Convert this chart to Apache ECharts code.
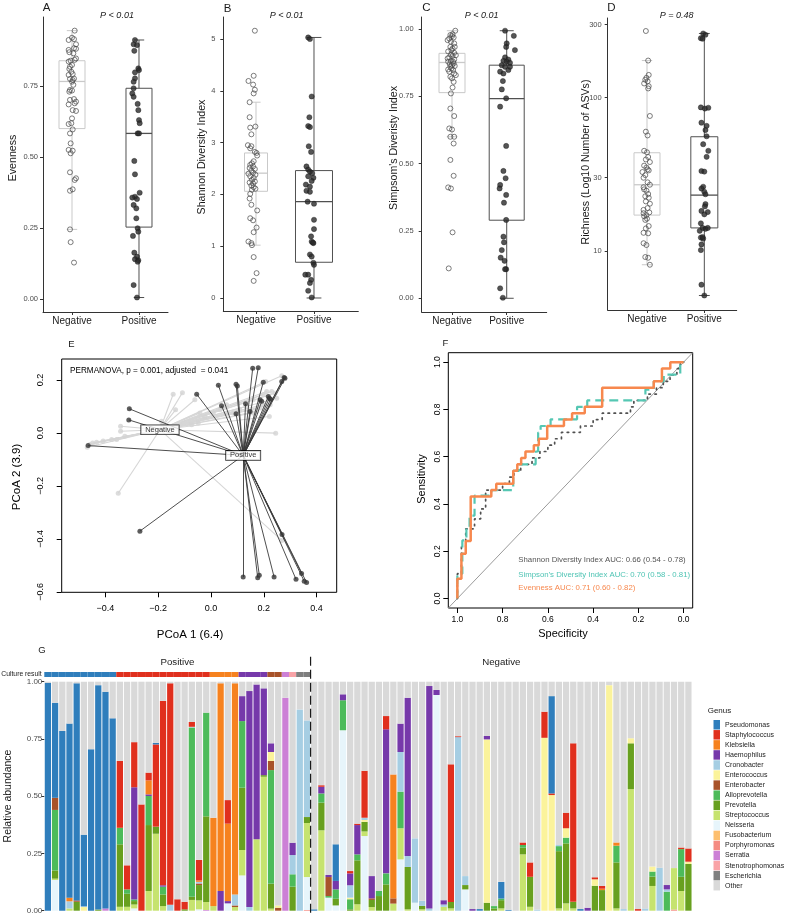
<!DOCTYPE html>
<html>
<head>
<meta charset="utf-8">
<script src="https://cdn.jsdelivr.net/npm/echarts@6.0.0/dist/echarts.min.js"></script>
<style>
html,body{margin:0;padding:0;background:#ffffff;}
#chart{width:787px;height:918px;}
</style>
</head>
<body>
<div id="chart"></div>
<script>
// ===================== DATA =====================
const groupNames = ['Negative', 'Positive'];

// Panel A – Evenness : [jitter offset, value]
const evennessNeg = [[0.04,0.945],[0.00,0.92],[-0.05,0.912],[0.03,0.915],[0.06,0.897],[-0.05,0.877],[0.03,0.883],[0.06,0.881],[-0.04,0.869],[0.02,0.865],[0.06,0.847],[-0.05,0.836],[-0.02,0.839],[0.04,0.842],[0.00,0.824],[-0.03,0.818],[-0.04,0.81],[-0.01,0.8],[0.01,0.792],[-0.05,0.789],[-0.03,0.775],[0.01,0.771],[0.03,0.776],[0.00,0.765],[0.02,0.754],[-0.03,0.736],[-0.04,0.73],[0.00,0.734],[-0.03,0.701],[0.03,0.704],[0.06,0.695],[0.04,0.689],[-0.05,0.685],[0.01,0.665],[0.06,0.662],[0.00,0.636],[-0.05,0.616],[-0.01,0.619],[0.01,0.597],[-0.03,0.583],[-0.02,0.548],[-0.05,0.525],[0.01,0.522],[-0.02,0.513],[-0.03,0.446],[0.06,0.425],[0.04,0.419],[0.01,0.386],[-0.03,0.381],[-0.03,0.245],[-0.02,0.2],[0.03,0.128]];
const evennessPos = [[-0.06,0.912],[-0.08,0.897],[-0.03,0.894],[-0.07,0.874],[-0.01,0.812],[0.0,0.806],[-0.06,0.798],[-0.06,0.777],[-0.08,0.765],[-0.08,0.742],[-0.1,0.724],[-0.08,0.712],[-0.02,0.687],[-0.01,0.665],[0.0,0.63],[0.01,0.619],[-0.02,0.583],[0.0,0.583],[-0.07,0.486],[-0.06,0.439],[0.01,0.374],[-0.06,0.36],[-0.1,0.357],[-0.03,0.352],[-0.08,0.331],[-0.04,0.319],[-0.04,0.284],[-0.02,0.249],[-0.01,0.237],[-0.09,0.222],[-0.07,0.163],[-0.03,0.149],[-0.06,0.14],[-0.01,0.136],[-0.02,0.131],[-0.08,0.049],[-0.03,0.005]];
const evennessBox = [[0.245,0.600,0.766,0.839,0.945],[0.005,0.253,0.583,0.742,0.912]];

// Panel B – Shannon
const shannonNeg = [[-0.02,5.16],[-0.04,4.29],[-0.13,4.19],[-0.05,4.12],[-0.02,4.02],[-0.04,3.95],[-0.11,3.78],[-0.11,3.49],[-0.01,3.31],[-0.1,3.29],[-0.08,3.16],[-0.14,2.95],[-0.08,2.93],[-0.1,2.89],[-0.02,2.82],[0.01,2.8],[0.02,2.75],[-0.04,2.64],[-0.07,2.6],[-0.1,2.57],[-0.05,2.54],[-0.11,2.51],[-0.02,2.49],[-0.08,2.46],[-0.05,2.42],[-0.13,2.4],[-0.01,2.38],[-0.1,2.35],[-0.04,2.32],[-0.07,2.28],[-0.02,2.25],[-0.11,2.23],[-0.05,2.21],[-0.08,2.17],[-0.04,2.14],[-0.01,2.11],[-0.07,2.09],[-0.1,2.01],[-0.11,1.92],[-0.08,1.8],[0.02,1.69],[-0.1,1.54],[-0.05,1.5],[0.01,1.36],[-0.04,1.27],[-0.13,1.09],[-0.08,1.06],[-0.07,1.02],[-0.04,0.79],[0.01,0.48],[-0.04,0.33]];
const shannonPos = [[-0.1,5.03],[-0.07,5.0],[-0.04,3.89],[-0.08,3.49],[-0.1,3.32],[-0.07,3.3],[-0.09,2.93],[-0.05,2.82],[-0.13,2.54],[-0.1,2.48],[-0.07,2.44],[-0.03,2.41],[-0.1,2.35],[-0.01,2.32],[-0.04,2.26],[-0.14,2.19],[-0.07,2.15],[-0.13,2.07],[-0.07,2.05],[-0.11,1.86],[0.0,1.82],[0.0,1.51],[0.0,1.33],[-0.05,1.19],[-0.04,1.09],[-0.01,1.06],[-0.02,1.07],[-0.07,0.84],[-0.04,0.8],[-0.01,0.68],[0.0,0.64],[-0.15,0.45],[-0.1,0.45],[-0.05,0.35],[-0.07,0.29],[-0.1,0.14],[-0.04,0.01]];
const shannonBox = [[1.02,2.06,2.41,2.80,3.78],[0.0,0.69,1.86,2.46,5.03]];

// Panel C – Simpson
const simpsonNeg = [[0.06,0.994],[0.01,0.981],[-0.03,0.978],[0.0,0.974],[0.03,0.969],[-0.05,0.965],[-0.02,0.953],[0.04,0.947],[-0.03,0.934],[0.01,0.928],[-0.07,0.917],[0.04,0.912],[-0.02,0.906],[0.01,0.9],[-0.05,0.895],[0.04,0.887],[-0.02,0.882],[-0.07,0.879],[0.03,0.873],[0.0,0.866],[-0.03,0.86],[-0.05,0.842],[0.04,0.835],[-0.03,0.823],[0.01,0.783],[-0.02,0.761],[-0.03,0.705],[0.04,0.677],[-0.05,0.631],[0.0,0.627],[-0.03,0.6],[0.04,0.6],[0.03,0.575],[-0.03,0.514],[0.03,0.455],[-0.07,0.412],[-0.02,0.408],[0.01,0.245],[-0.06,0.111],[-0.08,0.959],[0.05,0.934],[-0.01,0.922],[0.07,0.903],[-0.08,0.891],[0.02,0.879],[-0.04,0.87],[0.05,0.863],[-0.01,0.854],[0.02,0.848],[-0.07,0.85],[0.07,0.829],[0.0,0.817],[0.03,0.804]];
const simpsonPos = [[-0.03,0.994],[0.13,0.975],[0.0,0.947],[-0.01,0.934],[0.15,0.922],[-0.03,0.895],[0.03,0.887],[-0.06,0.882],[0.0,0.879],[0.06,0.875],[-0.09,0.866],[-0.03,0.86],[0.03,0.848],[-0.12,0.842],[-0.06,0.835],[-0.07,0.807],[-0.09,0.776],[-0.01,0.743],[-0.12,0.712],[-0.01,0.566],[-0.06,0.473],[-0.02,0.446],[-0.12,0.421],[-0.13,0.408],[-0.01,0.384],[-0.05,0.355],[-0.01,0.291],[-0.06,0.229],[-0.05,0.208],[-0.09,0.179],[-0.11,0.151],[-0.04,0.139],[-0.01,0.108],[-0.03,0.108],[-0.12,0.037],[-0.07,0.002],[0.06,0.86]];
const simpsonBox = [[0.600,0.764,0.876,0.910,0.994],[0.0,0.290,0.742,0.866,0.994]];

// Panel D – Richness (number of ASVs, log scale)
const richnessNeg = [[-0.02,273],[0.02,175],[0.03,141],[-0.01,135],[-0.03,131],[0.01,128],[-0.05,124],[0.03,119],[0.02,115],[0.05,76],[-0.02,60],[0.01,56.7],[-0.05,45],[0.0,44],[0.02,41],[-0.02,39.5],[-0.05,36],[-0.01,35],[0.03,33.5],[-0.08,32.7],[-0.03,31.2],[0.05,27],[-0.05,25.2],[-0.01,24.7],[-0.03,22.7],[0.03,22.2],[0.05,20.3],[-0.06,17.6],[-0.01,17.1],[-0.05,16.8],[-0.03,15.9],[-0.02,14],[-0.06,13.1],[0.02,13],[-0.06,11.2],[-0.01,10.9],[-0.03,9.1],[0.02,9.0],[0.05,8.1],[0.01,28],[-0.06,26],[0.02,23.5],[-0.02,21],[0.01,19],[-0.06,18.5],[0.04,17.8],[0.0,16.2],[0.03,14.5],[-0.06,30],[0.01,34],[0.05,38]];
const richnessPos = [[-0.02,263],[0.02,258],[-0.06,245],[-0.03,243],[-0.06,86.5],[0.01,85],[0.07,86],[-0.05,68.7],[0.04,65.5],[0.02,61.5],[0.04,56],[-0.02,49.7],[0.07,45],[0.04,41.1],[-0.05,33.2],[0.0,32.9],[-0.02,26.2],[-0.05,25.5],[0.0,24.3],[0.02,23.4],[0.02,20.2],[-0.05,18.2],[0.06,17.9],[0.0,17.3],[-0.06,15.1],[-0.03,14.1],[0.02,13.9],[0.06,14.1],[-0.06,12.2],[-0.02,12.0],[-0.05,11.0],[-0.06,10.1],[-0.05,6.0],[0.0,5.1],[0.01,19.5],[-0.08,13.5],[-0.03,12.3]];
const richnessBox = [[8.1,17.1,27,43.7,175],[5.1,14.1,23.1,55.6,263]];

const pValues = ['P < 0.01', 'P < 0.01', 'P < 0.01', 'P = 0.48'];
const yTitles = ['Evenness', 'Shannon Diversity Index', "Simpsom's Diveristy Index", 'Richness (Log10 Number of ASVs)'];

// Panel E – PCoA
const pcoaNegCentroid = [-0.193, 0.012];
const pcoaPosCentroid = [0.122, -0.085];
const pcoaNeg = [[-0.468,-0.054],[-0.458,-0.044],[-0.448,-0.038],[-0.433,-0.035],[-0.408,-0.031],[-0.376,-0.025],[-0.357,-0.025],[-0.326,-0.013],[-0.342,0.025],[-0.342,0.006],[-0.351,-0.228],[-0.187,0.044],[-0.134,0.087],[-0.143,0.146],[-0.108,0.152],[-0.061,0.125],[-0.042,0.075],[-0.048,0.037],[-0.073,0.031],[-0.023,0.06],[0.009,0.075],[0.034,0.087],[0.059,0.106],[0.085,0.075],[0.109,0.087],[0.134,0.1],[0.16,0.075],[0.173,0.081],[0.186,0.094],[0.198,0.106],[0.221,0.062],[0.224,0.106],[0.16,0.125],[0.198,0.144],[0.207,0.194],[0.211,0.156],[0.23,0.156],[0.242,0.15],[0.249,0.131],[0.268,0.216],[0.245,-0.001],[0.268,-0.406]];
const pcoaPos = [[-0.465,-0.048],[-0.309,0.091],[-0.311,0.049],[-0.269,-0.371],[-0.054,0.146],[0.028,0.18],[0.04,0.102],[0.095,0.184],[0.1,0.177],[0.095,0.072],[0.131,0.11],[0.158,0.244],[0.179,0.246],[0.198,0.191],[0.186,0.125],[0.192,0.119],[0.217,0.137],[0.221,0.131],[0.226,0.127],[0.268,0.194],[0.277,0.209],[0.28,0.206],[0.148,0.081],[0.122,-0.544],[0.177,-0.547],[0.183,-0.538],[0.239,-0.544],[0.322,-0.553],[0.343,-0.531],[0.353,-0.56],[0.362,-0.565],[0.269,-0.384]];
const permanovaText = 'PERMANOVA, p = 0.001, adjusted  = 0.041';

// Panel F – ROC curves : [specificity, sensitivity]
const rocShannon = [[1,0],[1,0.105],[0.982,0.105],[0.982,0.218],[0.963,0.218],[0.963,0.295],[0.924,0.295],[0.924,0.337],[0.897,0.337],[0.897,0.379],[0.875,0.379],[0.875,0.459],[0.80,0.459],[0.80,0.486],[0.77,0.486],[0.77,0.514],[0.75,0.514],[0.75,0.541],[0.72,0.541],[0.72,0.568],[0.67,0.568],[0.67,0.595],[0.635,0.595],[0.635,0.622],[0.6,0.622],[0.6,0.649],[0.57,0.649],[0.57,0.676],[0.54,0.676],[0.54,0.703],[0.456,0.703],[0.456,0.730],[0.40,0.730],[0.40,0.757],[0.36,0.757],[0.36,0.784],[0.235,0.784],[0.235,0.811],[0.22,0.811],[0.22,0.838],[0.16,0.838],[0.16,0.865],[0.12,0.865],[0.12,0.892],[0.09,0.892],[0.09,0.919],[0.06,0.919],[0.06,0.946],[0.03,0.946],[0.03,0.973],[0.015,0.973],[0.015,1],[0,1]];
const rocSimpson = [[1,0],[1,0.105],[0.978,0.105],[0.978,0.246],[0.96,0.246],[0.96,0.298],[0.946,0.298],[0.946,0.351],[0.924,0.351],[0.924,0.435],[0.85,0.435],[0.85,0.459],[0.753,0.459],[0.753,0.540],[0.728,0.540],[0.728,0.568],[0.654,0.568],[0.654,0.622],[0.643,0.622],[0.643,0.702],[0.632,0.702],[0.632,0.730],[0.588,0.730],[0.588,0.758],[0.471,0.758],[0.471,0.811],[0.426,0.811],[0.426,0.838],[0.169,0.838],[0.169,0.884],[0.132,0.884],[0.132,0.919],[0.088,0.919],[0.088,0.947],[0.015,0.947],[0.015,1],[0,1]];
const rocEvenness = [[1,0],[1,0.084],[0.982,0.084],[0.982,0.189],[0.963,0.189],[0.963,0.243],[0.941,0.243],[0.941,0.432],[0.85,0.432],[0.85,0.459],[0.828,0.459],[0.828,0.486],[0.753,0.486],[0.753,0.541],[0.735,0.541],[0.735,0.568],[0.718,0.568],[0.718,0.595],[0.699,0.595],[0.699,0.622],[0.662,0.622],[0.662,0.649],[0.64,0.649],[0.64,0.676],[0.603,0.676],[0.603,0.730],[0.529,0.730],[0.529,0.757],[0.493,0.757],[0.493,0.784],[0.437,0.784],[0.437,0.811],[0.36,0.811],[0.36,0.892],[0.132,0.892],[0.132,0.919],[0.096,0.919],[0.096,0.973],[0.059,0.973],[0.059,1],[0,1]];
const rocChance = [[1.04,-0.04],[-0.04,1.04]];
const aucLabels = ['Shannon Diversity Index AUC: 0.66 (0.54 - 0.78)', "Simpson's Diversity Index AUC: 0.70 (0.58 - 0.81)", 'Evenness AUC: 0.71 (0.60 - 0.82)'];

// Panel G – relative abundance per sample (bar number 1..90 : abundance)
const genusOrder = ['Pseudomonas','Staphylococcus','Klebsiella','Haemophilus','Cronobacter','Enterococcus','Enterobacter','Alloprevotella','Prevotella','Streptococcus','Neisseria','Fusobacterium','Porphyromonas','Serratia','Stenotrophomonas','Escherichia'];
const Pseudomonas = [[1,0.995],[2,0.415],[3,0.785],[4,0.76],[5,0.948],[6,0.313],[7,0.705],[8,0.98],[9,0.946],[10,0.84],[16,0.007],[38,0.006],[41,0.16],[61,0.007],[64,0.073],[65,0.004],[71,0.425],[75,0.007]];
const Staphylococcus = [[11,0.292],[12,0.105],[13,0.197],[14,0.464],[15,0.034],[16,0.359],[17,0.805],[18,0.967],[19,0.05],[20,0.033],[21,0.021],[22,0.09],[26,0.103],[39,0.007],[43,0.01],[44,0.006],[45,0.205],[48,0.058],[57,0.601],[58,0.004],[67,0.011],[68,0.063],[70,0.114],[71,0.007],[73,0.068],[74,0.692],[77,0.009],[78,0.012],[83,0.007],[89,0.007],[90,0.058]];
const Klebsiella = [[4,0.016],[15,0.061],[22,0.006],[24,0.386],[25,0.907],[26,0.338],[27,0.922],[49,0.541],[78,0.006],[80,0.014]];
const Haemophilus = [[13,0.49],[15,0.007],[17,0.006],[25,0.086],[26,0.01],[28,0.109],[29,0.943],[30,0.676],[31,0.379],[32,0.038],[35,0.054],[39,0.029],[40,0.009],[41,0.037],[42,0.026],[43,0.052],[44,0.128],[46,0.097],[48,0.629],[50,0.124],[51,0.691],[54,0.971],[55,0.022],[56,0.019],[60,0.007],[62,0.015],[76,0.013],[87,0.019]];
const Cronobacter = [[4,0.031],[6,0.003],[18,0.026],[21,0.003],[22,0.007],[27,0.048],[29,0.016],[35,0.084],[36,0.879],[37,0.422],[43,0.054],[45,0.01],[50,0.173],[51,0.048],[52,0.281],[53,0.022],[54,0.01],[56,0.01],[58,0.758],[59,0.039],[69,0.005],[72,0.005],[81,0.007],[84,0.01],[86,0.188],[87,0.01]];
const Enterococcus = [[6,0.016],[32,0.039],[33,0.01],[43,0.007],[45,0.008],[62,0.713],[70,0.755],[71,0.505],[73,0.041],[77,0.028],[79,0.985],[82,0.022],[85,0.022],[90,0.01]];
const Enterobacter = [[2,0.053],[5,0.006],[22,0.007],[27,0.007],[32,0.04],[33,0.013],[40,0.083],[46,0.007],[49,0.023]];
const Alloprevotella = [[2,0.264],[11,0.072],[12,0.019],[13,0.007],[15,0.127],[17,0.034],[21,0.739],[23,0.453],[28,0.291],[32,0.496],[35,0.054],[39,0.04],[40,0.007],[41,0.041],[42,0.131],[43,0.044],[44,0.026],[47,0.022],[48,0.048],[50,0.16],[63,0.01],[64,0.007],[67,0.012],[72,0.022],[73,0.025],[80,0.073],[85,0.022],[87,0.083],[89,0.121]];
const Prevotella = [[2,0.036],[5,0.039],[8,0.005],[11,0.273],[12,0.057],[13,0.015],[15,0.288],[16,0.031],[17,0.051],[20,0.006],[21,0.014],[22,0.067],[23,0.374],[28,0.272],[31,0.007],[32,0.109],[35,0.105],[37,0.026],[39,0.121],[41,0.029],[43,0.006],[44,0.192],[45,0.042],[46,0.031],[47,0.064],[48,0.115],[51,0.185],[53,0.015],[57,0.028],[59,0.019],[62,0.035],[63,0.01],[64,0.036],[67,0.029],[68,0.131],[72,0.25],[73,0.262],[74,0.029],[77,0.109],[78,0.09],[80,0.201],[82,0.2],[85,0.041],[89,0.062],[90,0.204]];
const Streptococcus = [[2,0.006],[4,0.01],[11,0.017],[12,0.017],[13,0.017],[15,0.086],[16,0.336],[17,0.02],[21,0.047],[22,0.039],[23,0.035],[24,0.02],[27,0.016],[28,0.111],[30,0.312],[31,0.585],[32,0.009],[37,0.236],[39,0.351],[44,0.028],[45,0.02],[46,0.016],[49,0.031],[50,0.136],[51,0.006],[53,0.006],[56,0.017],[57,0.01],[64,0.01],[67,0.246],[68,0.017],[72,0.01],[73,0.032],[74,0.01],[80,0.01],[82,0.531],[85,0.108],[88,0.181],[89,0.086]];
const Neisseria = [[2,0.134],[13,0.01],[22,0.006],[26,0.032],[28,0.154],[37,0.144],[40,0.057],[41,0.023],[42,0.788],[45,0.326],[50,0.224],[52,0.035],[55,0.942],[59,0.093]];
const Fusobacterium = [];
const Porphyromonas = [[37,0.003],[88,0.005]];
const Serratia = [[9,0.01],[23,0.003],[34,0.93]];
const Stenotrophomonas = [];
const Escherichia = [];
const abundanceByGenus = {Pseudomonas,Staphylococcus,Klebsiella,Haemophilus,Cronobacter,Enterococcus,Enterobacter,Alloprevotella,Prevotella,Streptococcus,Neisseria,Fusobacterium,Porphyromonas,Serratia,Stenotrophomonas,Escherichia};
const sampleCount = 90;
const cultureResult = [['Pseudomonas',10],['Staphylococcus',13],['Klebsiella',4],['Haemophilus',4],['Enterobacter',2],['Serratia',1],['Stenotrophomonas',1],['Escherichia',2]];

// ===================== STYLE =====================
const FONT = '"Liberation Sans", Arial, Helvetica, sans-serif';
const genusColors = {
  Pseudomonas:'#2f7ebc', Staphylococcus:'#e0301e', Klebsiella:'#f6821f', Haemophilus:'#7639aa',
  Cronobacter:'#a6cee3', Enterococcus:'#fbf39b', Enterobacter:'#a8532a', Alloprevotella:'#4dbb5a',
  Prevotella:'#68a01f', Streptococcus:'#c6e36f', Neisseria:'#e7f5fb', Fusobacterium:'#fdbf6f',
  Porphyromonas:'#f58b82', Serratia:'#cc80d6', Stenotrophomonas:'#f9a3a7', Escherichia:'#7f7f7f', Other:'#d9d9d9'
};
const boxPanels = [
  {grid:{left:43,top:17,width:125,height:295}, xmin:0.567, xmax:2.433, ymin:-0.046, ymax:0.993, yticks:[0,0.25,0.5,0.75], fmt:v=>v.toFixed(2), type:'value', lm:5, widths:[26,26], neg:evennessNeg, pos:evennessPos, box:evennessBox},
  {grid:{left:223.3,top:17,width:135,height:294}, xmin:0.436, xmax:2.764, ymin:-0.251, ymax:5.425, yticks:[0,1,2,3,4,5], fmt:v=>String(Math.round(v)), type:'value', lm:8, widths:[23,37], neg:shannonNeg, pos:shannonPos, box:shannonBox},
  {grid:{left:421.7,top:17,width:125,height:295}, xmin:0.446, xmax:2.731, ymin:-0.051, ymax:1.045, yticks:[0,0.25,0.5,0.75,1], fmt:v=>v.toFixed(2), type:'value', lm:8, widths:[26,35], neg:simpsonNeg, pos:simpsonPos, box:simpsonBox},
  {grid:{left:607.7,top:18,width:129,height:292}, xmin:0.314, xmax:2.565, ymin:4.1, ymax:332, yticks:[10,30,100,300], fmt:v=>String(Math.round(v)), type:'log', lm:6, widths:[26,27], neg:richnessNeg, pos:richnessPos, box:richnessBox}
];
const boxColors = ['#c9c9c9', '#505050'];

// ===================== BUILD =====================
const grids = [], xAxes = [], yAxes = [], series = [], graphics = [];
function txt(text, x, y, o) {
  o = o || {};
  return {type:'text', x:x, y:y, rotation:o.rot||0, silent:true, z:100,
    style:{text:text, fontSize:o.fs||10, fontFamily:FONT, fill:o.color||'#1a1a1a', align:o.align||'center', verticalAlign:o.va||'middle', fontStyle:o.italic?'italic':'normal'}};
}
function boxRenderer(widths) {
  return function(params, api) {
    const i = params.dataIndex;
    const x = api.value(0);
    const p = [1,2,3,4,5].map(k => api.coord([x, api.value(k)]));
    const cx = p[0][0], w = widths[i], hw = w/2, cw = w*0.2;
    const col = boxColors[i];
    const st = {stroke:col, lineWidth:1, fill:null};
    return {type:'group', children:[
      {type:'line', shape:{x1:cx,y1:p[0][1],x2:cx,y2:p[1][1]}, style:st},
      {type:'line', shape:{x1:cx,y1:p[3][1],x2:cx,y2:p[4][1]}, style:st},
      {type:'line', shape:{x1:cx-cw,y1:p[0][1],x2:cx+cw,y2:p[0][1]}, style:st},
      {type:'line', shape:{x1:cx-cw,y1:p[4][1],x2:cx+cw,y2:p[4][1]}, style:st},
      {type:'rect', shape:{x:cx-hw,y:p[3][1],width:w,height:p[1][1]-p[3][1]}, style:{stroke:col, lineWidth:1, fill:'none'}},
      {type:'line', shape:{x1:cx-hw,y1:p[2][1],x2:cx+hw,y2:p[2][1]}, style:{stroke:col, lineWidth:1.3}}
    ]};
  };
}

boxPanels.forEach((bp, gi) => {
  grids.push(Object.assign({containLabel:false, outerBoundsMode:'none'}, bp.grid));
  xAxes.push({gridIndex:gi, type:'value', min:bp.xmin, max:bp.xmax,
    axisLine:{show:true, onZero:false, lineStyle:{color:'#333', width:1}},
    axisTick:{show:true, customValues:[1,2], length:3, lineStyle:{color:'#333'}},
    axisLabel:{customValues:[1,2], formatter:v => groupNames[Math.round(v)-1], fontSize:10, color:'#1a1a1a', fontFamily:FONT, margin:4},
    splitLine:{show:false}});
  yAxes.push({gridIndex:gi, type:bp.type, min:bp.ymin, max:bp.ymax, logBase:10,
    axisLine:{show:true, onZero:false, lineStyle:{color:'#333', width:1}},
    axisTick:{show:true, customValues:bp.yticks, length:3, lineStyle:{color:'#333'}},
    axisLabel:{customValues:bp.yticks, formatter:bp.fmt, fontSize:7.5, color:'#4d4d4d', fontFamily:FONT, margin:bp.lm},
    splitLine:{show:false}, minorTick:{show:false}});
  series.push({type:'custom', xAxisIndex:gi, yAxisIndex:gi, z:2, silent:true,
    renderItem:boxRenderer(bp.widths),
    data:bp.box.map((b, k) => [k+1].concat(b))});
  series.push({type:'scatter', xAxisIndex:gi, yAxisIndex:gi, z:3, silent:true, symbolSize:5,
    itemStyle:{color:'rgba(255,255,255,0)', borderColor:'#4a4a4a', borderWidth:0.9},
    data:bp.neg.map(d => [1+d[0], d[1]])});
  series.push({type:'scatter', xAxisIndex:gi, yAxisIndex:gi, z:3, silent:true, symbolSize:5.2,
    itemStyle:{color:'#2a2a2a', borderColor:'#1a1a1a', borderWidth:0.5},
    data:bp.pos.map(d => [2+d[0], d[1]])});
});

// Panel text A-D
const letterPos = [[46.5,7.5],[227.5,8.5],[426.5,7.5],[611.5,7.5]];
const pPos = [[117,15],[286.7,15.5],[481.7,15],[676.7,15]];
const yTitlePos = [[13.3,158],[201.7,157],[394.5,148],[586.5,162]];
['A','B','C','D'].forEach((L, i) => {
  graphics.push(txt(L, letterPos[i][0], letterPos[i][1], {fs:11.5}));
  graphics.push(txt(pValues[i], pPos[i][0], pPos[i][1], {fs:9, italic:true}));
  graphics.push(txt(yTitles[i], yTitlePos[i][0], yTitlePos[i][1], {fs:10.6, rot:Math.PI/2}));
});

// ---- Panel E ----
const gE = grids.length;
grids.push({left:61.7, top:359, width:275, height:233.3, show:true, borderColor:'#000', borderWidth:1, containLabel:false, outerBoundsMode:'none'});
const minusFmt = v => (v < -1e-9 ? '\u2212' : '') + Math.abs(v).toFixed(1);
xAxes.push({gridIndex:gE, type:'value', min:-0.565, max:0.476, axisLine:{show:false, onZero:false},
  axisTick:{show:true, customValues:[-0.4,-0.2,0,0.2,0.4], length:5, lineStyle:{color:'#000'}},
  axisLabel:{customValues:[-0.4,-0.2,0,0.2,0.4], formatter:minusFmt, fontSize:9, color:'#000', fontFamily:FONT, margin:12},
  splitLine:{show:false}});
yAxes.push({gridIndex:gE, type:'value', min:-0.602, max:0.279, axisLine:{show:false, onZero:false},
  axisTick:{show:true, customValues:[-0.6,-0.4,-0.2,0,0.2], length:5, lineStyle:{color:'#000'}},
  axisLabel:{customValues:[-0.6,-0.4,-0.2,0,0.2], formatter:minusFmt, rotate:90, fontSize:9, color:'#000', fontFamily:FONT, margin:17},
  splitLine:{show:false}});
series.push({type:'lines', coordinateSystem:'cartesian2d', xAxisIndex:gE, yAxisIndex:gE, silent:true, z:2,
  lineStyle:{color:'#d6d6d6', width:1.1, opacity:1, curveness:0},
  data:pcoaNeg.map(p => ({coords:[pcoaNegCentroid, p]}))});
series.push({type:'scatter', xAxisIndex:gE, yAxisIndex:gE, silent:true, z:3, symbolSize:5,
  itemStyle:{color:'#d3d3d3'}, data:pcoaNeg});
series.push({type:'lines', coordinateSystem:'cartesian2d', xAxisIndex:gE, yAxisIndex:gE, silent:true, z:4,
  lineStyle:{color:'#3a3a3a', width:0.9, opacity:1, curveness:0},
  data:pcoaPos.map(p => ({coords:[pcoaPosCentroid, p]}))});
series.push({type:'scatter', xAxisIndex:gE, yAxisIndex:gE, silent:true, z:5, symbolSize:5,
  itemStyle:{color:'#353535'}, data:pcoaPos});
series.push({type:'scatter', xAxisIndex:gE, yAxisIndex:gE, silent:true, z:6, symbolSize:0,
  label:{show:true, position:'inside', fontSize:7.5, fontFamily:FONT, color:'#000', backgroundColor:'#fff', borderColor:'#000', borderWidth:0.8, padding:[1,4,0,4], formatter:p => p.name},
  data:[{name:groupNames[0], value:pcoaNegCentroid},{name:groupNames[1], value:pcoaPosCentroid}]});
graphics.push(txt('E', 71.5, 344, {fs:9.5}));
graphics.push(txt(permanovaText, 70, 370.5, {fs:8.2, align:'left', color:'#000'}));
graphics.push(txt('PCoA 1 (6.4)', 190, 635, {fs:11.5, color:'#000'}));
graphics.push(txt('PCoA 2 (3.9)', 17, 477, {fs:11.5, color:'#000', rot:Math.PI/2}));

// ---- Panel F ----
const gF = grids.length;
grids.push({left:448.3, top:352.7, width:244.4, height:255.3, show:true, borderColor:'#000', borderWidth:1, containLabel:false, outerBoundsMode:'none'});
const rocTicks = [0,0.2,0.4,0.6,0.8,1];
xAxes.push({gridIndex:gF, type:'value', inverse:true, min:-0.04, max:1.04, axisLine:{show:false, onZero:false},
  axisTick:{show:true, customValues:rocTicks, length:5, lineStyle:{color:'#000'}},
  axisLabel:{customValues:rocTicks, formatter:v => v.toFixed(1), fontSize:8.5, color:'#000', fontFamily:FONT, margin:7},
  splitLine:{show:false}});
yAxes.push({gridIndex:gF, type:'value', min:-0.04, max:1.04, axisLine:{show:false, onZero:false},
  axisTick:{show:true, customValues:rocTicks, length:5, lineStyle:{color:'#000'}},
  axisLabel:{customValues:rocTicks, formatter:v => v.toFixed(1), rotate:90, fontSize:8.5, color:'#000', fontFamily:FONT, margin:6},
  splitLine:{show:false}});
series.push({type:'line', xAxisIndex:gF, yAxisIndex:gF, data:rocChance, showSymbol:false, silent:true, z:2,
  lineStyle:{color:'#9a9a9a', width:1}});
series.push({type:'line', xAxisIndex:gF, yAxisIndex:gF, data:rocShannon, showSymbol:false, silent:true, z:3,
  lineStyle:{color:'#505050', width:1.7, type:[1.5,4.5], cap:'round'}});
series.push({type:'line', xAxisIndex:gF, yAxisIndex:gF, data:rocSimpson, showSymbol:false, silent:true, z:4,
  lineStyle:{color:'#55c7b3', width:2.2, type:[9,5]}});
series.push({type:'line', xAxisIndex:gF, yAxisIndex:gF, data:rocEvenness, showSymbol:false, silent:true, z:5,
  lineStyle:{color:'#f7884e', width:2.5}});
graphics.push(txt('F', 445.5, 343, {fs:9.5}));
graphics.push(txt(aucLabels[0], 518.3, 560, {fs:7.8, align:'left', color:'#555'}));
graphics.push(txt(aucLabels[1], 518.3, 574.5, {fs:7.8, align:'left', color:'#4fc4b4'}));
graphics.push(txt(aucLabels[2], 518.3, 588, {fs:7.8, align:'left', color:'#f7884e'}));
graphics.push(txt('Sensitivity', 421.7, 479, {fs:11, color:'#000', rot:Math.PI/2}));
graphics.push(txt('Specificity', 563, 634, {fs:11, color:'#000'}));

// ---- Panel G ----
const sampleIds = Array.from({length:sampleCount}, (_, i) => 'S' + (i+1));
const dense = {};
genusOrder.forEach(g => {
  const arr = new Array(sampleCount).fill(0);
  abundanceByGenus[g].forEach(([idx, v]) => { arr[idx-1] = v; });
  dense[g] = arr;
});
const otherAbund = sampleIds.map((_, i) => {
  let s = 0; genusOrder.forEach(g => { s += dense[g][i]; });
  return Math.max(0, +(1 - s).toFixed(4));
});
const gG = grids.length;
grids.push({left:44.3, top:681.7, width:647.7, height:229, containLabel:false, outerBoundsMode:'none'});
xAxes.push({gridIndex:gG, type:'category', data:sampleIds, show:false});
yAxes.push({gridIndex:gG, type:'value', min:0, max:1, interval:0.25, axisLine:{show:false},
  axisTick:{show:true, length:3, lineStyle:{color:'#333'}},
  axisLabel:{formatter:v => v.toFixed(2), fontSize:8, color:'#4d4d4d', fontFamily:FONT, margin:2},
  splitLine:{show:false}});
const stackOrder = genusOrder.slice().reverse();
stackOrder.forEach(g => {
  series.push({name:g, type:'bar', stack:'abund', xAxisIndex:gG, yAxisIndex:gG, data:dense[g], barCategoryGap:'13%',
    itemStyle:{color:genusColors[g]}, silent:true, z:2});
});
series.push({name:'Other', type:'bar', stack:'abund', xAxisIndex:gG, yAxisIndex:gG, data:otherAbund, barCategoryGap:'13%',
  itemStyle:{color:genusColors.Other}, silent:true, z:2});
// separator + group headers
const nPos = cultureResult.reduce((s, c) => s + c[1], 0);
series.push({type:'custom', xAxisIndex:gG, yAxisIndex:gG, silent:true, z:10, clip:false, data:[[0,0]],
  renderItem:(params, api) => {
    const a = api.coord([nPos-1, 1]), b = api.coord([nPos, 0]);
    const x = (a[0] + b[0]) / 2;
    const p0 = api.coord([0, 1]), pN = api.coord([sampleCount-1, 1]);
    const hs = {fontSize:9.7, fontFamily:FONT, fill:'#1a1a1a', align:'center', verticalAlign:'middle'};
    return {type:'group', children:[
      {type:'line', shape:{x1:x, y1:a[1]-25, x2:x, y2:b[1]+4}, style:{stroke:'#1a1a1a', lineWidth:1.2, lineDash:[9,4]}},
      {type:'text', x:(p0[0]+a[0])/2, y:a[1]-19.7, style:Object.assign({text:groupNames[1]}, hs)},
      {type:'text', x:(b[0]+pN[0])/2, y:a[1]-19.7, style:Object.assign({text:groupNames[0]}, hs)}
    ]};
  }});
// culture result strip
const cultureArr = [];
cultureResult.forEach(([g, n]) => { for (let k = 0; k < n; k++) cultureArr.push(g); });
const gC = grids.length;
grids.push({left:44.3, top:672, width:647.7, height:5, containLabel:false, outerBoundsMode:'none'});
xAxes.push({gridIndex:gC, type:'category', data:sampleIds, show:false});
yAxes.push({gridIndex:gC, type:'value', min:0, max:1, show:false});
series.push({type:'bar', xAxisIndex:gC, yAxisIndex:gC, barCategoryGap:'0%', silent:true,
  data:sampleIds.map((_, i) => i < cultureArr.length ? {value:1, itemStyle:{color:genusColors[cultureArr[i]]}} : '-')});

graphics.push(txt('G', 42, 650, {fs:9.5}));
graphics.push(txt('Culture result', 41.7, 674.5, {fs:6.8, align:'right'}));
graphics.push(txt('Relative abundance', 8, 796, {fs:10.5, rot:Math.PI/2}));
graphics.push(txt('Genus', 707.7, 711, {fs:8, align:'left'}));

const option = {
  animation:false,
  backgroundColor:'#ffffff',
  textStyle:{fontFamily:FONT},
  grid:grids, xAxis:xAxes, yAxis:yAxes, series:series,
  legend:{data:genusOrder.concat(['Other']), orient:'vertical', left:713.5, top:720, itemWidth:6.5, itemHeight:9.5, itemGap:0.56,
    icon:'rect', selectedMode:false, textStyle:{fontSize:7, color:'#222', fontFamily:FONT}, padding:0},
  graphic:graphics
};
const chart = echarts.init(document.getElementById('chart'), null, {renderer:'canvas'});
chart.setOption(option);
</script>
</body>
</html>
